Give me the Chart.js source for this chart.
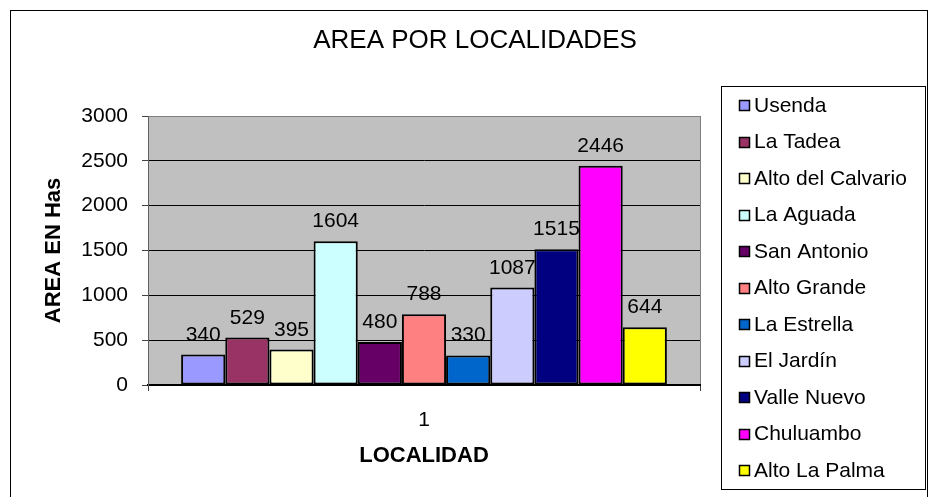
<!DOCTYPE html>
<html>
<head>
<meta charset="utf-8">
<title>AREA POR LOCALIDADES</title>
<script src="https://cdn.jsdelivr.net/npm/chart.js@4/dist/chart.umd.min.js"></script>
<style>
    html, body { margin: 0; padding: 0; background: #fff; }
    #wrap { width: 930px; height: 497px; position: relative; }
</style>
</head>
<body>
<div id="wrap"><canvas id="chart" width="930" height="497"></canvas></div>
<script>
// Data
const categories = ['1'];
const localidades = ['Usenda', 'La Tadea', 'Alto del Calvario', 'La Aguada', 'San Antonio',
    'Alto Grande', 'La Estrella', 'El Jardín', 'Valle Nuevo', 'Chuluambo', 'Alto La Palma'];
const areas = [340, 529, 395, 1604, 480, 788, 330, 1087, 1515, 2446, 644];
const colors = ['#9999FF', '#993366', '#FFFFCC', '#CCFFFF', '#660066',
    '#FF8080', '#0066CC', '#CCCCFF', '#000080', '#FF00FF', '#FFFF00'];
const yTicks = [0, 500, 1000, 1500, 2000, 2500, 3000];

const FONT = '"Liberation Sans", Arial, sans-serif';

// Frame, plot background and title
const backgroundPlugin = {
    id: 'background',
    beforeDraw(chart) {
        const { ctx, chartArea: a } = chart;
        ctx.save();
        ctx.fillStyle = '#fff';
        ctx.fillRect(0, 0, chart.width, chart.height);
        ctx.strokeStyle = '#000';
        ctx.lineWidth = 1;
        ctx.strokeRect(10.5, 10.5, 917, 495);
        ctx.fillStyle = '#C0C0C0';
        ctx.fillRect(a.left, a.top, a.right - a.left, a.bottom - a.top);
        ctx.strokeStyle = '#808080';
        ctx.strokeRect(a.left + 0.5, a.top + 0.5, a.right - a.left, a.bottom - a.top);
        ctx.fillStyle = '#000';
        ctx.font = `26px ${FONT}`;
        ctx.textAlign = 'center';
        ctx.textBaseline = 'middle';
        ctx.fillText('AREA POR LOCALIDADES', 475, 41);
        ctx.restore();
    }
};

// Value labels above bars
const valueLabels = {
    id: 'valueLabels',
    afterDatasetsDraw(chart) {
        const { ctx } = chart;
        ctx.save();
        ctx.font = `21px ${FONT}`;
        ctx.fillStyle = '#000';
        ctx.textAlign = 'center';
        ctx.textBaseline = 'alphabetic';
        chart.data.datasets.forEach((ds, i) => {
            const bar = chart.getDatasetMeta(i).data[0];
            ctx.fillText(String(ds.data[0]), bar.x, bar.y - 14);
        });
        ctx.restore();
    }
};

// Legend box on the right
const sideLegend = {
    id: 'sideLegend',
    afterDraw(chart) {
        const { ctx } = chart;
        ctx.save();
        ctx.strokeStyle = '#000';
        ctx.lineWidth = 1;
        ctx.strokeRect(721.5, 86.5, 204, 403);
        ctx.font = `21px ${FONT}`;
        ctx.textAlign = 'left';
        ctx.textBaseline = 'middle';
        chart.data.datasets.forEach((ds, i) => {
            const cy = 105 + i * 36.5;
            const top = Math.round(cy - 5) + 0.5;
            ctx.fillStyle = ds.backgroundColor;
            ctx.fillRect(739.5, top, 10, 10);
            ctx.lineWidth = 1.5;
            ctx.strokeStyle = '#000';
            ctx.strokeRect(739.5, top, 10, 10);
            ctx.fillStyle = '#000';
            ctx.fillText(ds.label, 754, cy + 1);
        });
        ctx.restore();
    }
};

const datasets = localidades.map((name, i) => ({
    label: name,
    data: [areas[i]],
    backgroundColor: colors[i],
    borderColor: '#000',
    borderWidth: 2,
    borderSkipped: false
}));

new Chart(document.getElementById('chart'), {
    type: 'bar',
    data: { labels: categories, datasets: datasets },
    options: {
        responsive: false,
        animation: false,
        layout: { padding: { top: 116, left: 41, right: 230, bottom: 28 } },
        datasets: { bar: { categoryPercentage: 0.88, barPercentage: 1 } },
        plugins: {
            legend: { display: false },
            tooltip: { enabled: false },
            title: { display: false }
        },
        scales: {
            x: {
                afterFit(scale) { scale.height = 84; },
                grid: {
                    display: true,
                    offset: true,
                    drawOnChartArea: false,
                    drawTicks: true,
                    tickLength: 6,
                    color: '#404040'
                },
                border: { display: true, color: '#000', width: 2 },
                ticks: { color: '#000', font: { family: FONT, size: 21 }, padding: 17 },
                title: {
                    display: true,
                    text: 'LOCALIDAD',
                    color: '#000',
                    font: { family: FONT, size: 22, weight: 'bold' },
                    padding: { top: 0, bottom: 0 }
                }
            },
            y: {
                min: 0,
                max: 3000,
                afterFit(scale) { scale.width = 107; },
                afterBuildTicks(scale) { scale.ticks = yTicks.map(v => ({ value: v })); },
                grid: {
                    color: ctx => (ctx.tick && ctx.tick.value === 3000 ? '#808080' : '#000'),
                    tickColor: '#404040',
                    tickLength: 6,
                    lineWidth: 1
                },
                border: { display: true, color: '#606060', width: 1 },
                ticks: {
                    color: '#000',
                    font: { family: FONT, size: 21 },
                    padding: 14,
                    callback: v => String(v)
                },
                title: {
                    display: true,
                    text: 'AREA EN Has',
                    color: '#000',
                    font: { family: FONT, size: 22, weight: 'bold' },
                    padding: { top: 0, bottom: 0 }
                }
            }
        }
    },
    plugins: [backgroundPlugin, valueLabels, sideLegend]
});
</script>
</body>
</html>
